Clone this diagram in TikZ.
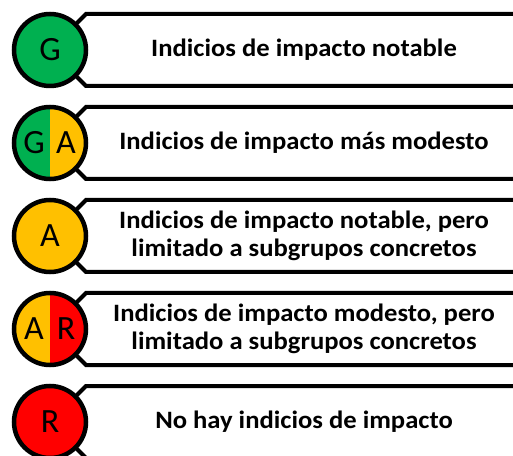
\documentclass[tikz,border=0pt]{standalone}
\usepackage{fontspec}
\setmainfont{Carlito}
\newfontfamily\labelfont[FakeStretch=1.065]{Carlito}
\usetikzlibrary{calc}
\definecolor{cg}{HTML}{00B050}
\definecolor{cy}{HTML}{FFC000}
\definecolor{cr}{HTML}{FF0000}
\begin{document}
\begin{tikzpicture}[x=1pt,y=1pt,
  frame/.style={draw=black,line width=4pt,fill=white,line join=miter},
  ring/.style={draw=black,line width=4.5pt},
  letter/.style={font=\fontsize{34}{34}\selectfont,inner sep=0pt},
  label/.style={font=\labelfont\fontsize{25}{28.5}\selectfont\bfseries,align=center,inner sep=0pt}]
\useasboundingbox (0,0) rectangle (513,455);
% row centres (y measured from bottom)
\coordinate (cone) at (50,405);
\coordinate (ctwo) at (50,312);
\coordinate (cthree) at (50,219);
\coordinate (cfour) at (50,126);
\coordinate (cfive) at (50,33);
% frames
\foreach \nm in {one,two,three,four,five}{
  \draw[frame] ($(c\nm)+(36*0.7071,36*0.7071)$) -- ($(c\nm)+(36,36)$) -- ($(c\nm)+(520,36)$) -- ($(c\nm)+(520,-36)$) -- ($(c\nm)+(36,-36)$) -- ($(c\nm)+(36*0.7071,-36*0.7071)$);
}
% circles
\fill[cg] (cone) circle [radius=36];
\fill[cg] ($(ctwo)+(0,36)$) arc [start angle=90,end angle=270,radius=36] -- cycle;
\fill[cy] ($(ctwo)+(0,36)$) arc [start angle=90,end angle=-90,radius=36] -- cycle;
\fill[cy] (cthree) circle [radius=36];
\fill[cy] ($(cfour)+(0,36)$) arc [start angle=90,end angle=270,radius=36] -- cycle;
\fill[cr] ($(cfour)+(0,36)$) arc [start angle=90,end angle=-90,radius=36] -- cycle;
\fill[cr] (cfive) circle [radius=36];
\foreach \nm in {one,two,three,four,five}{\draw[ring] (c\nm) circle [radius=36];}
% letters
\node[letter] (l1) at (cone) {G};
\node[letter] (l2a) at ($(ctwo)+(-16,0)$) {G};
\node[letter] (l2b) at ($(ctwo)+(16,0)$) {A};
\node[letter] (l3) at (cthree) {A};
\node[letter] (l4a) at ($(cfour)+(-16,0)$) {A};
\node[letter] (l4b) at ($(cfour)+(16,0)$) {R};
\node[letter] (l5) at (cfive) {R};
% labels
\node[label] (t1) at (304,405) {Indicios de impacto notable};
\node[label] (t2) at (304,312) {Indicios de impacto más modesto};
\node[label] (t3) at (304,219) {Indicios de impacto notable, pero\\limitado a subgrupos concretos};
\node[label] (t4) at (304,126) {Indicios de impacto modesto, pero\\limitado a subgrupos concretos};
\node[label] (t5) at (304,33) {No hay indicios de impacto};
\end{tikzpicture}
\end{document}
